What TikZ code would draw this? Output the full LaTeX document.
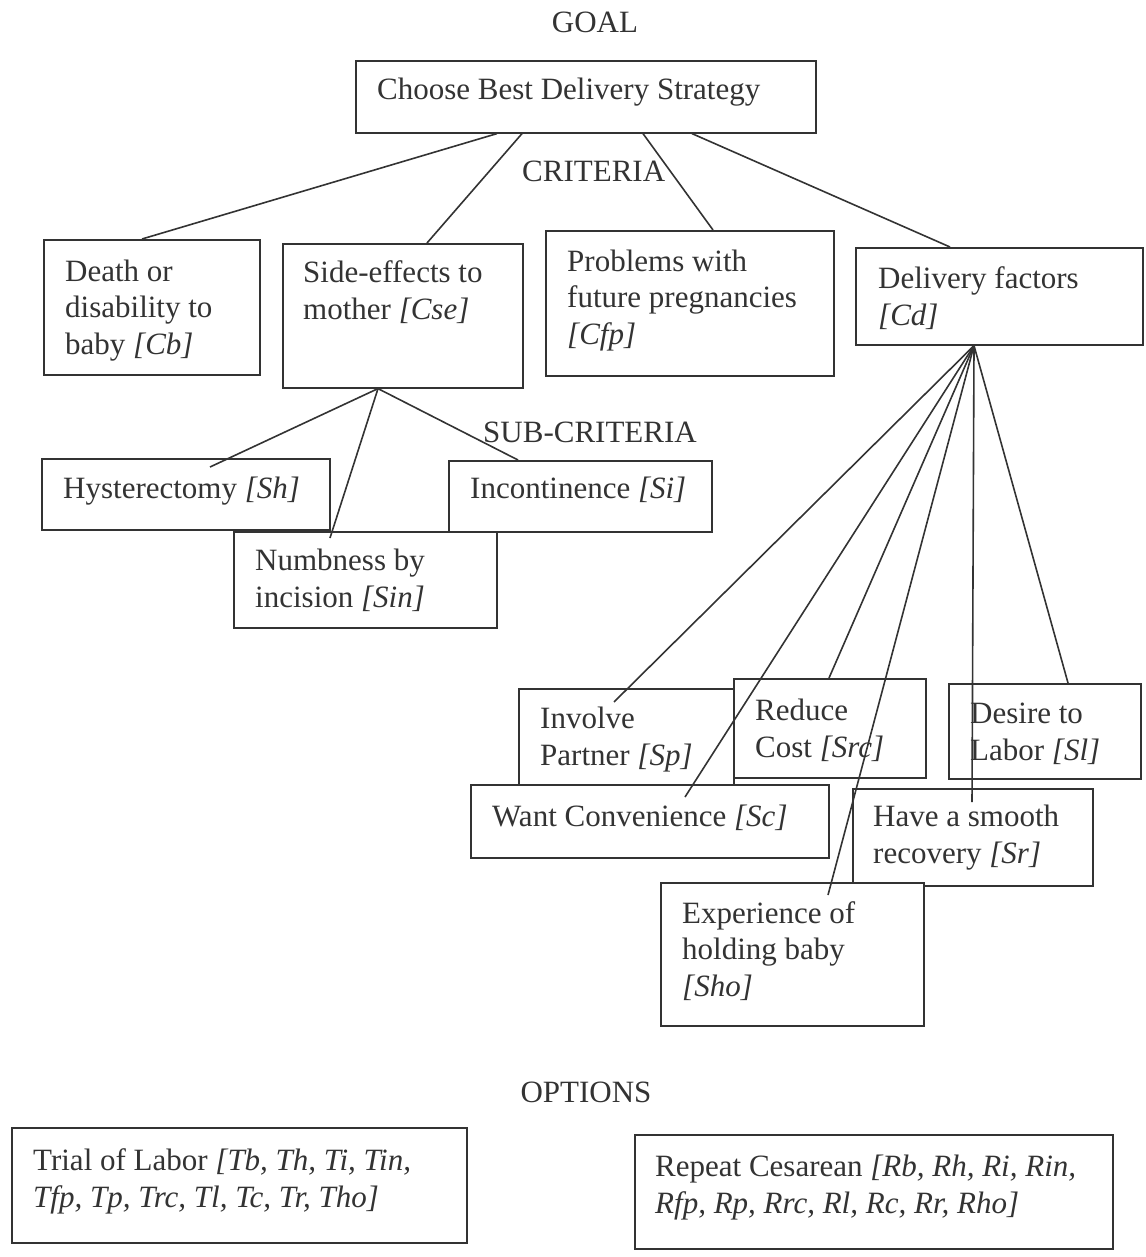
\documentclass[tikz,border=0pt]{standalone}
\usepackage{fontspec}
\setmainfont{Liberation Serif}
\usetikzlibrary{calc}
\definecolor{ink}{gray}{0.2}
\tikzset{
  box/.style={draw=ink, line width=1.6pt, fill=white, inner sep=0pt, anchor=north west},
  lbl/.style={inner sep=0pt, anchor=base west, align=left, text=ink,
              font=\fontsize{31}{36.5}\selectfont},
  head/.style={inner sep=0pt, anchor=base west, text=ink, font=\fontsize{31}{36.5}\selectfont},
  conn/.style={draw=ink, line width=1.6pt},
}
\begin{document}
\begin{tikzpicture}[x=1pt,y=-1pt]
\useasboundingbox (0,0) rectangle (1145,1257);

% headings
\node[head, anchor=base] (hgoal) at (595,33) {GOAL};
\node[head] (hcrit) at (522,182) {CRITERIA};
\node[head] (hsub) at (483,442) {SUB-CRITERIA};
\node[head, anchor=base] (hopt) at (586,1102) {OPTIONS};

% goal (text anchors are at the baseline of the last line)
\node[box, minimum width=460pt, minimum height=72pt] (goal) at (355,60) {};
\node[lbl] (goalt) at (377,100) {Choose Best Delivery Strategy};

% criteria
\node[box, minimum width=216pt, minimum height=135pt] (cb) at (43,239) {};
\node[lbl] (cbt) at (65,354) {Death or\\disability to\\baby \textit{[Cb]}};
\node[box, minimum width=240pt, minimum height=144pt] (cse) at (282,243) {};
\node[lbl] (cset) at (303,319) {Side-effects to\\mother \textit{[Cse]}};
\node[box, minimum width=288pt, minimum height=145pt] (cfp) at (545,230) {};
\node[lbl] (cfpt) at (567,344) {Problems with\\future pregnancies\\\textit{[Cfp]}};
\node[box, minimum width=287pt, minimum height=97pt] (cd) at (855,247) {};
\node[lbl] (cdt) at (878,325) {Delivery factors\\\textit{[Cd]}};

% sub-criteria of Cse
\node[box, minimum width=288pt, minimum height=71pt] (sh) at (41,458) {};
\node[lbl] (sht) at (63,498) {Hysterectomy \textit{[Sh]}};
\node[box, minimum width=263pt, minimum height=71pt] (si) at (448,460) {};
\node[lbl] (sit) at (470,498) {Incontinence \textit{[Si]}};
\node[box, minimum width=263pt, minimum height=96pt] (sin) at (233,531) {};
\node[lbl] (sint) at (255,607) {Numbness by\\incision \textit{[Sin]}};

% sub-criteria of Cd
\node[box, minimum width=215pt, minimum height=96pt] (sp) at (518,688) {};
\node[lbl] (spt) at (540,765) {Involve\\Partner \textit{[Sp]}};
\node[box, minimum width=192pt, minimum height=99pt] (src) at (733,678) {};
\node[lbl] (srct) at (755,757) {Reduce\\Cost \textit{[Src]}};
\node[box, minimum width=192pt, minimum height=95pt] (sl) at (948,683) {};
\node[lbl] (slt) at (970,760) {Desire to\\Labor \textit{[Sl]}};
\node[box, minimum width=358pt, minimum height=73pt] (sc) at (470,784) {};
\node[lbl] (sct) at (492,826) {Want Convenience \textit{[Sc]}};
\node[box, minimum width=240pt, minimum height=97pt] (sr) at (852,788) {};
\node[lbl] (srt) at (873,863) {Have a smooth\\recovery \textit{[Sr]}};
\node[box, minimum width=263pt, minimum height=143pt] (sho) at (660,882) {};
\node[lbl] (shot) at (682,996) {Experience of\\holding baby\\\textit{[Sho]}};

% options
\node[box, minimum width=455pt, minimum height=115pt] (trial) at (11,1127) {};
\node[lbl] (trialt) at (33,1207) {Trial of Labor \textit{[Tb, Th, Ti, Tin,}\\\textit{Tfp, Tp, Trc, Tl, Tc, Tr, Tho]}};
\node[box, minimum width=478pt, minimum height=114pt] (rep) at (634,1134) {};
\node[lbl] (rept) at (655,1213) {Repeat Cesarean \textit{[Rb, Rh, Ri, Rin,}\\\textit{Rfp, Rp, Rrc, Rl, Rc, Rr, Rho]}};

% connectors: goal to criteria
\draw[conn] ($(goal.south west)+(142,0)$) -- ($(cb.north west)+(99,0)$);
\draw[conn] ($(goal.south west)+(167,0)$) -- ($(cse.north west)+(145,0)$);
\draw[conn] ($(goal.south west)+(288,0)$) -- ($(cfp.north west)+(168,0)$);
\draw[conn] ($(goal.south west)+(337,0)$) -- ($(cd.north west)+(95,0)$);

% Cse to sub-criteria
\coordinate (csefan) at ($(cse.south west)+(96,0)$);
\draw[conn] (csefan) -- ($(sh.north west)+(169,9)$);
\draw[conn] (csefan) -- ($(sin.north west)+(97,7)$);
\draw[conn] (csefan) -- ($(si.north west)+(70,0)$);

% Cd to sub-criteria
\coordinate (cdfan) at ($(cd.south west)+(119,0)$);
\draw[conn] (cdfan) -- ($(sp.north west)+(96,14)$);
\draw[conn] (cdfan) -- ($(sc.north west)+(215,13)$);
\draw[conn] (cdfan) -- ($(src.north west)+(96,0)$);
\draw[conn] (cdfan) -- ($(sho.north west)+(168,13)$);
\draw[conn] (cdfan) -- ($(sr.north west)+(120,14)$);
\draw[conn] (cdfan) -- ($(sl.north west)+(120,0)$);
\end{tikzpicture}
\end{document}
